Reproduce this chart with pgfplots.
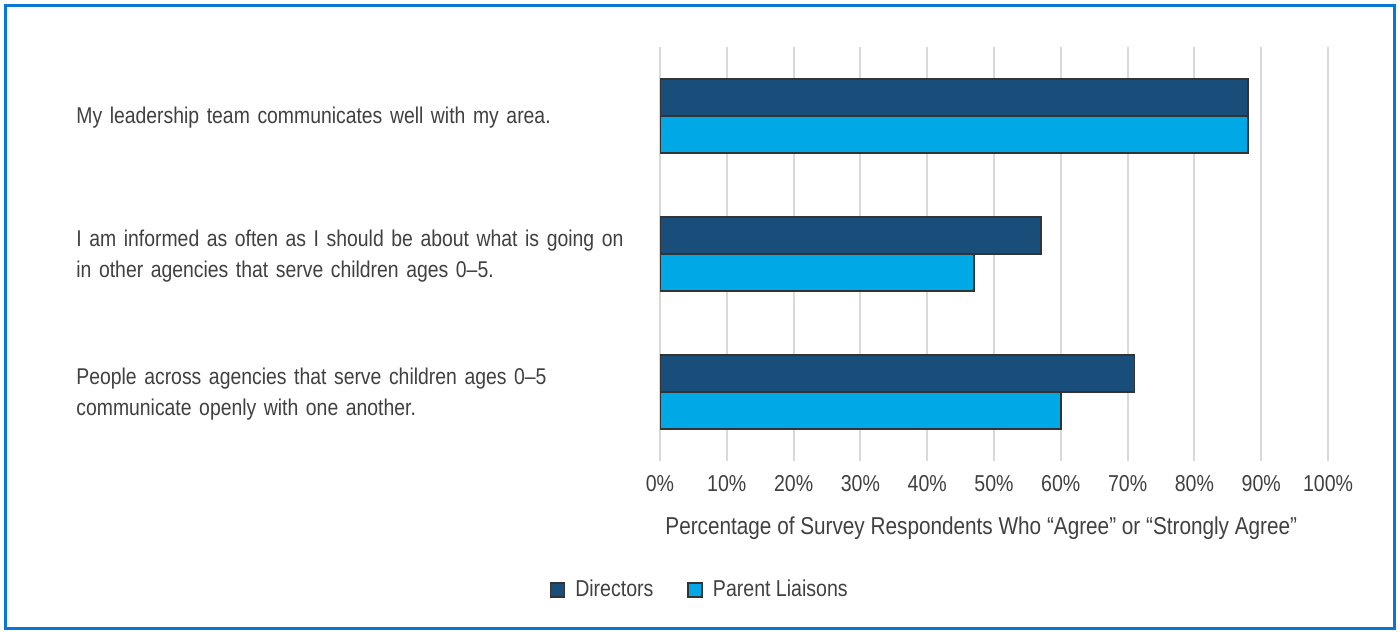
\documentclass[border=0pt]{standalone}
\usepackage{pgfplots}
\pgfplotsset{compat=1.18}
\usepackage{fontspec}
\setmainfont{Liberation Sans}[FakeStretch=0.85]
\definecolor{dirc}{HTML}{194D7A}
\definecolor{parc}{HTML}{00A9E5}
\definecolor{txt}{HTML}{404040}
\definecolor{framec}{HTML}{0A78D2}
\definecolor{gridc}{HTML}{D9D9D9}
\begin{document}
\begin{tikzpicture}[x=1pt,y=1pt]
\useasboundingbox (0,0) rectangle (700,315.5);
\draw[framec, line width=1.6pt] (2.75,1.2) rectangle (697.25,312.75);
\begin{axis}[
  at={(330pt,85pt)}, anchor=south west,
  width=334pt, height=207pt, scale only axis,
  xmin=0, xmax=100, ymin=-0.5, ymax=2.5, y dir=reverse,
  xbar, bar width=18.5pt,
  axis line style={draw=none},
  major tick length=0pt,
  xtick={0,10,20,30,40,50,60,70,80,90,100},
  xticklabels={0\%,10\%,20\%,30\%,40\%,50\%,60\%,70\%,80\%,90\%,100\%},
  xticklabel style={font=\fontsize{11.5}{14}\selectfont, text=txt, yshift=-3.5pt},
  xmajorgrids, grid style={gridc, line width=1pt},
  ytick={0,1,2},
  yticklabels={{My leadership team communicates well with my area.},
    {I am informed as often as I should be about what is going on\\in other agencies that serve children ages 0--5.},
    {People across agencies that serve children ages 0--5\\communicate openly with one another.}},
  yticklabel style={anchor=west, text width=290pt, align=left, inner sep=0pt, xshift=-292pt, yshift=-1pt,
    font=\fontsize{11.4}{15.5}\selectfont, text=txt},
  xlabel={Percentage of Survey Respondents Who “Agree” or “Strongly Agree”},
  xlabel style={at={(axis description cs:0.481,0)}, anchor=center, yshift=-33.5pt,
    font=\fontsize{12.2}{14}\selectfont, text=txt},
  legend columns=2,
  legend style={at={(axis description cs:0.061,-0.3116)}, anchor=center, draw=none,
    font=\fontsize{11.5}{14}\selectfont, text=txt,
    /tikz/every odd column/.append style={column sep=3pt},
    /tikz/every even column/.append style={column sep=15pt}},
  legend image code/.code={\draw[#1, line width=0.75pt] (0pt,-3.5pt) rectangle (7pt,3.5pt);},
]
\addplot[fill=dirc, draw=black!80, line width=0.75pt, bar shift=9.25pt]
  coordinates {(88,0) (57,1) (71,2)};
\addplot[fill=parc, draw=black!80, line width=0.75pt, bar shift=-9.25pt]
  coordinates {(88,0) (47,1) (60,2)};
\legend{Directors, Parent Liaisons}
\end{axis}
\end{tikzpicture}
\end{document}
